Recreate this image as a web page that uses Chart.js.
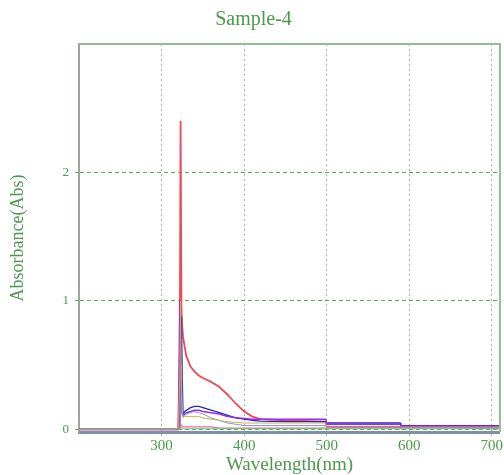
<!DOCTYPE html>
<html>
<head>
<meta charset="utf-8">
<title>Sample-4</title>
<script src="https://cdn.jsdelivr.net/npm/chart.js@4.4.1/dist/chart.umd.min.js"></script>
<style>
  html, body { margin: 0; padding: 0; background: #fff; }
  #wrap { width: 504px; height: 475px; }
</style>
</head>
<body>
<div id="wrap"><canvas id="chart"></canvas></div>
<script>
'use strict'

// wavelength grid (nm), denser around the 320-330 spike
const wavelengths = [200, 250, 300, 318, 320, 321, 322, 323, 324, 325, 326, 328, 330, 335, 340, 345, 350, 360, 370, 380, 390, 400, 410, 420, 450, 480, 499, 500, 550, 589, 590, 600, 650, 700, 710];

// absorbance series
const absRed    = [0, 0, 0, 0, 0, 0, 0.6, 2.4, 0.95, 0.8, 0.72, 0.64, 0.57, 0.49, 0.45, 0.42, 0.4, 0.37, 0.33, 0.27, 0.2, 0.14, 0.1, 0.08, 0.07, 0.065, 0.06, 0.02, 0.02, 0.02, 0.02, 0.02, 0.02, 0.015, 0.015];
const absBlue   = [0, 0, 0, 0, 0, 0, 0, 0.2, 0.88, 0.4, 0.12, 0.14, 0.15, 0.17, 0.18, 0.18, 0.17, 0.15, 0.13, 0.11, 0.09, 0.08, 0.07, 0.065, 0.06, 0.06, 0.06, 0.05, 0.05, 0.05, 0.03, 0.03, 0.03, 0.03, 0.03];
const absViolet = [0, 0, 0, 0, 0, 0.3, 1.0, 0.5, 0.2, 0.12, 0.11, 0.12, 0.13, 0.14, 0.15, 0.15, 0.14, 0.13, 0.12, 0.1, 0.09, 0.085, 0.08, 0.08, 0.08, 0.08, 0.08, 0.04, 0.04, 0.04, 0.025, 0.025, 0.025, 0.025, 0.025];
const absOlive  = [0, 0, 0, 0, 0, 0, 0.4, 1.0, 0.3, 0.1, 0.09, 0.1, 0.1, 0.1, 0.1, 0.1, 0.09, 0.08, 0.07, 0.06, 0.055, 0.05, 0.05, 0.05, 0.05, 0.05, 0.05, 0.01, 0.01, 0.01, 0.01, 0.01, 0.01, 0.01, 0.01];
const absSky    = [0, 0, 0, 0, 0, 0, 0, 0.1, 0.5, 0.2, 0.1, 0.11, 0.12, 0.13, 0.14, 0.13, 0.12, 0.09, 0.07, 0.05, 0.04, 0.03, 0.03, 0.03, 0.03, 0.03, 0.03, 0.02, 0.02, 0.02, 0.02, 0.02, 0.02, 0.02, 0.02];
const absPink   = [0, 0, 0, 0, 0, 0, 0, 0.05, 0.03, 0.02, 0.02, 0.02, 0.02, 0.02, 0.02, 0.02, 0.02, 0.02, 0.01, 0.01, 0.01, 0.01, 0.01, 0.01, 0.01, 0.01, 0.01, 0.015, 0.015, 0.015, 0.015, 0.015, 0.015, 0.01, 0.01];
const absGreen  = [0, 0, 0, 0, 0, 0, 0, 0.02, 0.01, 0.005, 0.005, 0.005, 0.005, 0.005, 0.005, 0.005, 0.005, 0.005, 0.005, 0.005, 0.005, 0.005, 0.005, 0.005, 0.005, 0.005, 0.005, 0.005, 0.005, 0.005, 0.005, 0.005, 0.005, 0.005, 0.005];

const xTicks = [300, 400, 500, 600, 700];
const yTicks = [0, 1, 2];

const green = '#4a9a4a';
const serif = "'Liberation Serif', 'DejaVu Serif', serif";

function pts(values) {
  return wavelengths.map(function(w, i) { return { x: w, y: values[i] }; });
}

function series(values, color, width) {
  return {
    data: pts(values),
    borderColor: color,
    borderWidth: width,
    pointRadius: 0,
    tension: 0,
  };
}

// frame round the plot area (top and right sides)
const frame = {
  id: 'frame',
  afterDraw(chart) {
    const a = chart.chartArea;
    const c = chart.ctx;
    c.save();
    c.strokeStyle = '#8fbf8f';
    c.lineWidth = 2;
    c.beginPath();
    c.moveTo(a.left, a.top);
    c.lineTo(a.right, a.top);
    c.lineTo(a.right, a.bottom);
    c.stroke();
    c.restore();
  }
};

const ctx = document.getElementById('chart');

new Chart(ctx, {
  type: 'line',
  data: {
    datasets: [
      series(absGreen, '#6cc36c', 1),
      series(absPink, '#f06a9a', 1.2),
      series(absOlive, '#c9b048', 1),
      series(absSky, '#7a96e6', 1),
      series(absViolet, '#9a2ee6', 1.5),
      series(absBlue, '#2028c8', 1.3),
      series(absRed, '#ea4a5a', 1.8),
    ]
  },
  options: {
    responsive: true,
    maintainAspectRatio: false,
    animation: false,
    layout: { padding: { left: 7, right: 4, top: 0, bottom: 0 } },
    plugins: {
      legend: { display: false },
      tooltip: { enabled: false },
      title: {
        display: true,
        text: 'Sample-4',
        color: green,
        font: { family: serif, size: 20, weight: 'normal', lineHeight: 1.2 },
        padding: { top: 8, bottom: 12 },
      },
    },
    scales: {
      x: {
        type: 'linear',
        min: 200,
        max: 710,
        afterBuildTicks(axis) { axis.ticks = xTicks.map(function(v) { return { value: v }; }); },
        ticks: { color: green, font: { family: serif, size: 15, lineHeight: 1.2 }, padding: 1, maxRotation: 0 },
        grid: { color: '#a8b4a8', lineWidth: 1, tickLength: 4 },
        border: { display: true, color: '#7e8fa8', width: 3, dash: [2, 3] },
        title: {
          display: true,
          text: 'Wavelength(nm)',
          color: green,
          font: { family: serif, size: 19, lineHeight: 1.0 },
          padding: { top: 0, bottom: 0 },
        },
      },
      y: {
        min: -0.02,
        max: 3,
        afterBuildTicks(axis) { axis.ticks = yTicks.map(function(v) { return { value: v }; }); },
        ticks: { color: green, font: { family: serif, size: 13 }, padding: 6 },
        grid: { color: '#5aa85a', lineWidth: 1, tickLength: 4 },
        border: { display: true, color: '#9aa89a', width: 2, dash: [4, 3] },
        title: {
          display: true,
          text: 'Absorbance(Abs)',
          color: green,
          font: { family: serif, size: 18, lineHeight: 1.2 },
          padding: { top: 0, bottom: 28 },
        },
      },
    },
  },
  plugins: [frame],
});
</script>
</body>
</html>
